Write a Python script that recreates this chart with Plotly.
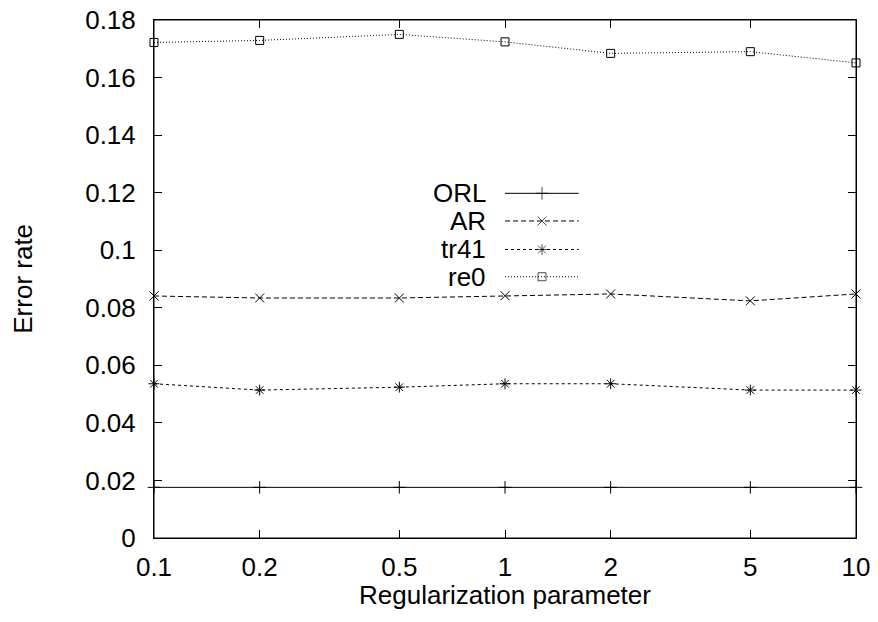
import math
import plotly.graph_objects as go

# ---- data ----
reg_params = [0.1, 0.2, 0.5, 1, 2, 5, 10]
x_tick_labels = ["0.1", "0.2", "0.5", "1", "2", "5", "10"]
y_tick_vals = [0, 0.02, 0.04, 0.06, 0.08, 0.1, 0.12, 0.14, 0.16, 0.18]
y_tick_labels = ["0", "0.02", "0.04", "0.06", "0.08", "0.1", "0.12", "0.14", "0.16", "0.18"]

series_names = ["ORL", "AR", "tr41", "re0"]
orl = [0.0176, 0.0176, 0.0176, 0.0176, 0.0176, 0.0176, 0.0176]
ar = [0.0841, 0.0834, 0.0834, 0.0842, 0.0848, 0.0824, 0.0848]
tr41 = [0.0536, 0.0514, 0.0524, 0.0536, 0.0536, 0.0514, 0.0514]
re0 = [0.1722, 0.1729, 0.1750, 0.1724, 0.1684, 0.1690, 0.1651]

# ---- styles ----
FONT = "Liberation Sans, Arial, Helvetica, sans-serif"
FS = 26
styles = {
    "ORL": dict(dash="solid", symbol="cross-thin", size=9),
    "AR": dict(dash="5px,3px", symbol="x-thin", size=9),
    "tr41": dict(dash="3px,3px", symbol="asterisk", size=9),
    "re0": dict(dash="1px,2px", symbol="square-open", size=8),
}
values = {"ORL": orl, "AR": ar, "tr41": tr41, "re0": re0}
Y_MAX = 0.18
X_LOG_MIN, X_LOG_MAX = -1, 1

fig = go.Figure()
for name in series_names:
    st = styles[name]
    fig.add_trace(go.Scatter(
        x=reg_params, y=values[name], mode="lines+markers", name=name,
        line=dict(color="black", width=1, dash=st["dash"]),
        marker=dict(symbol=st["symbol"], size=st["size"], color="black",
                    line=dict(color="black", width=1)),
        cliponaxis=False, showlegend=False,
    ))

# ---- manual gnuplot-style legend (text left, sample right), placed in plot fractions ----
def fx(frac):
    return 10 ** (X_LOG_MIN + frac * (X_LOG_MAX - X_LOG_MIN))

leg_rows = [0.6654, 0.612, 0.557, 0.5044]
leg_x0, leg_xm, leg_x1, leg_txt = 0.5, 0.5527, 0.605, 0.4758
for name, ry in zip(series_names, leg_rows):
    st = styles[name]
    yy = ry * Y_MAX
    fig.add_trace(go.Scatter(
        x=[fx(leg_x0), fx(leg_xm), fx(leg_x1)], y=[yy, yy, yy], mode="lines+markers",
        line=dict(color="black", width=1, dash=st["dash"]),
        marker=dict(symbol=st["symbol"], size=[0, st["size"], 0], color="black",
                    line=dict(color="black", width=1)),
        showlegend=False, hoverinfo="skip",
    ))
    fig.add_annotation(x=leg_txt, y=ry, xref="paper", yref="paper", text=name,
                       showarrow=False, xanchor="right", yanchor="middle",
                       font=dict(family=FONT, size=FS, color="black"))

axis_common = dict(showline=True, linecolor="black", linewidth=1, mirror="ticks",
                   ticks="inside", ticklen=8, tickwidth=1, tickcolor="black",
                   showgrid=False, zeroline=False, ticklabeloverflow="allow",
                   tickfont=dict(family=FONT, size=FS, color="black"))

fig.update_layout(
    width=862, height=606,
    margin=dict(l=146, r=14, t=12, b=76, autoexpand=False),
    paper_bgcolor="white", plot_bgcolor="white",
    showlegend=False,
    xaxis=dict(type="log", range=[X_LOG_MIN, X_LOG_MAX], tickvals=reg_params,
               ticktext=x_tick_labels, ticklabelstandoff=6, **axis_common),
    yaxis=dict(range=[0, Y_MAX], tickvals=y_tick_vals, ticktext=y_tick_labels,
               ticklabelstandoff=12, **axis_common),
    font=dict(family=FONT, size=FS, color="black"),
)

# frame box (gnuplot border)
fig.add_shape(type="rect", xref="paper", yref="paper", x0=0, x1=1, y0=0, y1=1,
              line=dict(color="black", width=1), layer="above")

fig.add_annotation(x=0.5, y=-0.11, xref="paper", yref="paper", text="Regularization parameter",
                   showarrow=False, xanchor="center", yanchor="middle",
                   font=dict(family=FONT, size=FS, color="black"))
fig.add_annotation(x=-0.187, y=0.5, xref="paper", yref="paper", text="Error rate",
                   textangle=-90, showarrow=False, xanchor="center", yanchor="middle",
                   font=dict(family=FONT, size=FS, color="black"))

fig.write_html("out.html")
